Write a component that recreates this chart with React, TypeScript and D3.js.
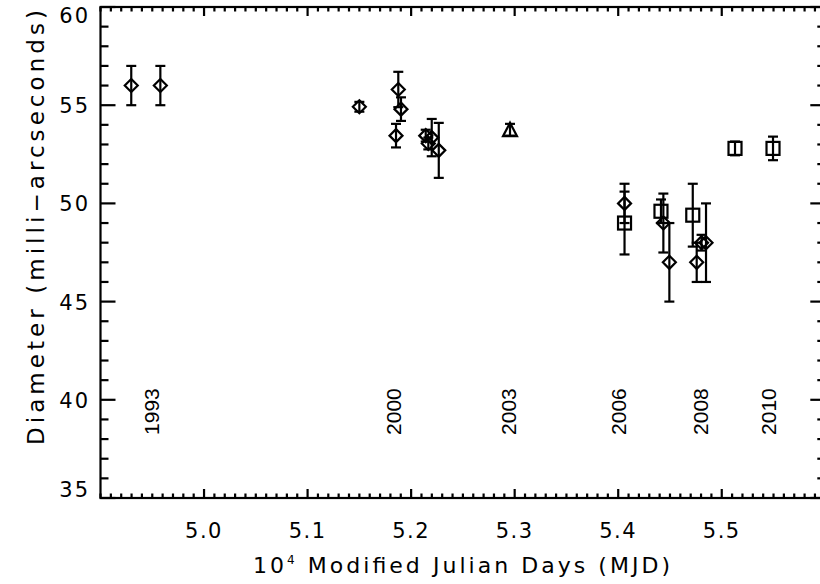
import React from "react";
import * as d3 from "d3";

const diamondX = [4.9297, 4.9578, 5.15, 5.1876, 5.1902, 5.1854, 5.2141, 5.2166, 5.2199, 5.2267, 5.4061, 5.4436, 5.4494, 5.4758, 5.4805, 5.4848];
const diamondY = [56.0, 56.0, 54.92, 55.8, 54.8, 53.45, 53.45, 53.05, 53.35, 52.7, 50.0, 49.0, 47.0, 47.0, 48.0, 48.0];
const diamondErr = [1.0, 1.0, 0.25, 0.9, 0.6, 0.6, 0.3, 0.3, 0.95, 1.4, 1.0, 1.5, 2.0, 1.0, 0.4, 2.0];

const squareX = [5.4061, 5.4413, 5.472, 5.5128, 5.5495];
const squareY = [49.0, 49.6, 49.4, 52.8, 52.8];
const squareErr = [1.6, 0.6, 1.6, 0.35, 0.6];

const triangleX = [5.2955];
const triangleY = [53.75];
const triangleErr = [0.3];

const yearLabels = ["1993", "2000", "2003", "2006", "2008", "2010"];
const yearX = [4.9497, 5.1825, 5.2945, 5.3998, 5.479, 5.5447];
const yearLabelY = 39.4;

const xMajorTicks = [5.0, 5.1, 5.2, 5.3, 5.4, 5.5];
const yMajorTicks = [35, 40, 45, 50, 55, 60];

export default function App() {
  const left = 100.5, right = 825.3, top = 7, bottom = 498;
  const x = d3.scaleLinear().domain([4.9, 5.6]).range([left, right]);
  const y = d3.scaleLinear().domain([35, 60]).range([bottom, top]);
  const xMinor = d3.range(0, 71).map((i) => 4.9 + i * 0.01);
  const yMinor = d3.range(35, 61, 1);
  const sw = 2.2;
  const cap = 5;
  const tickFont = "'DejaVu Sans', sans-serif";

  const errBar = (xv: number, yv: number, e: number, k: string) => (
    <g key={k} stroke="#000" strokeWidth={sw} fill="none">
      <line x1={x(xv)} x2={x(xv)} y1={y(yv - e)} y2={y(yv + e)} />
      <line x1={x(xv) - cap} x2={x(xv) + cap} y1={y(yv - e)} y2={y(yv - e)} />
      <line x1={x(xv) - cap} x2={x(xv) + cap} y1={y(yv + e)} y2={y(yv + e)} />
    </g>
  );
  const s = 6.5;

  return (
    <svg width={820} height={584} style={{ position: "absolute", left: 0, top: 0, background: "#fff" }}>
      <rect x={0} y={0} width={820} height={584} fill="#fff" />
      <rect x={left} y={top} width={right - left} height={bottom - top} fill="none" stroke="#000" strokeWidth={sw} />
      {xMinor.map((v, i) => {
        const major = xMajorTicks.some((m) => Math.abs(m - v) < 1e-6);
        const len = major ? 9 : 4.5;
        return (
          <g key={"xt" + i} stroke="#000" strokeWidth={sw}>
            <line x1={x(v)} x2={x(v)} y1={bottom} y2={bottom - len} />
            <line x1={x(v)} x2={x(v)} y1={top} y2={top + len} />
          </g>
        );
      })}
      {yMinor.map((v, i) => {
        const major = v % 5 === 0;
        const len = major ? 15 : 8;
        return (
          <g key={"yt" + i} stroke="#000" strokeWidth={sw}>
            <line x1={left} x2={left + len} y1={y(v)} y2={y(v)} />
            <line x1={right} x2={right - len} y1={y(v)} y2={y(v)} />
          </g>
        );
      })}
      {xMajorTicks.map((v) => (
        <text key={"xl" + v} x={x(v)} y={538} textAnchor="middle" fontFamily={tickFont} fontSize={21} letterSpacing={1.5}>
          {v.toFixed(1)}
        </text>
      ))}
      {yMajorTicks.map((v) => {
        const cy = Math.min(Math.max(y(v) + 1, 15.5), 490);
        return (
          <text key={"yl" + v} x={90} y={cy} textAnchor="end" dominantBaseline="central" fontFamily={tickFont} fontSize={21} letterSpacing={2}>
            {v}
          </text>
        );
      })}
      <text x={253} y={573} fontFamily={tickFont} fontSize={22} textLength={417} lengthAdjust="spacing">
        10<tspan dy={-9} fontSize={12}>4</tspan>
        <tspan dy={9}> Modified Julian Days (MJD)</tspan>
      </text>
      <text
        transform={`translate(44,227.5) rotate(-90)`}
        textAnchor="middle"
        fontFamily={tickFont}
        fontSize={23}
        textLength={435}
        lengthAdjust="spacing"
      >
        Diameter (milli−arcseconds)
      </text>
      {yearLabels.map((t, i) => (
        <text
          key={"yr" + t}
          transform={`translate(${x(yearX[i])},${y(yearLabelY)}) rotate(-90)`}
          textAnchor="middle"
          dominantBaseline="central"
          fontFamily="'Liberation Sans', Arial, sans-serif"
          fontSize={21}
        >
          {t}
        </text>
      ))}
      {diamondX.map((v, i) => errBar(v, diamondY[i], diamondErr[i], "de" + i))}
      {squareX.map((v, i) => errBar(v, squareY[i], squareErr[i], "se" + i))}
      {triangleX.map((v, i) => errBar(v, triangleY[i], triangleErr[i], "te" + i))}
      {diamondX.map((v, i) => (
        <path
          key={"d" + i}
          d={`M${x(v)},${y(diamondY[i]) - s} L${x(v) + s},${y(diamondY[i])} L${x(v)},${y(diamondY[i]) + s} L${x(v) - s},${y(diamondY[i])} Z`}
          fill="none"
          stroke="#000"
          strokeWidth={sw}
        />
      ))}
      {squareX.map((v, i) => (
        <rect key={"s" + i} x={x(v) - 6.5} y={y(squareY[i]) - 6.5} width={13} height={13} fill="none" stroke="#000" strokeWidth={sw} />
      ))}
      {triangleX.map((v, i) => (
        <path
          key={"t" + i}
          d={`M${x(v)},${y(triangleY[i]) - 7} L${x(v) + 7},${y(triangleY[i]) + 6.5} L${x(v) - 7},${y(triangleY[i]) + 6.5} Z`}
          fill="none"
          stroke="#000"
          strokeWidth={sw}
        />
      ))}
    </svg>
  );
}
